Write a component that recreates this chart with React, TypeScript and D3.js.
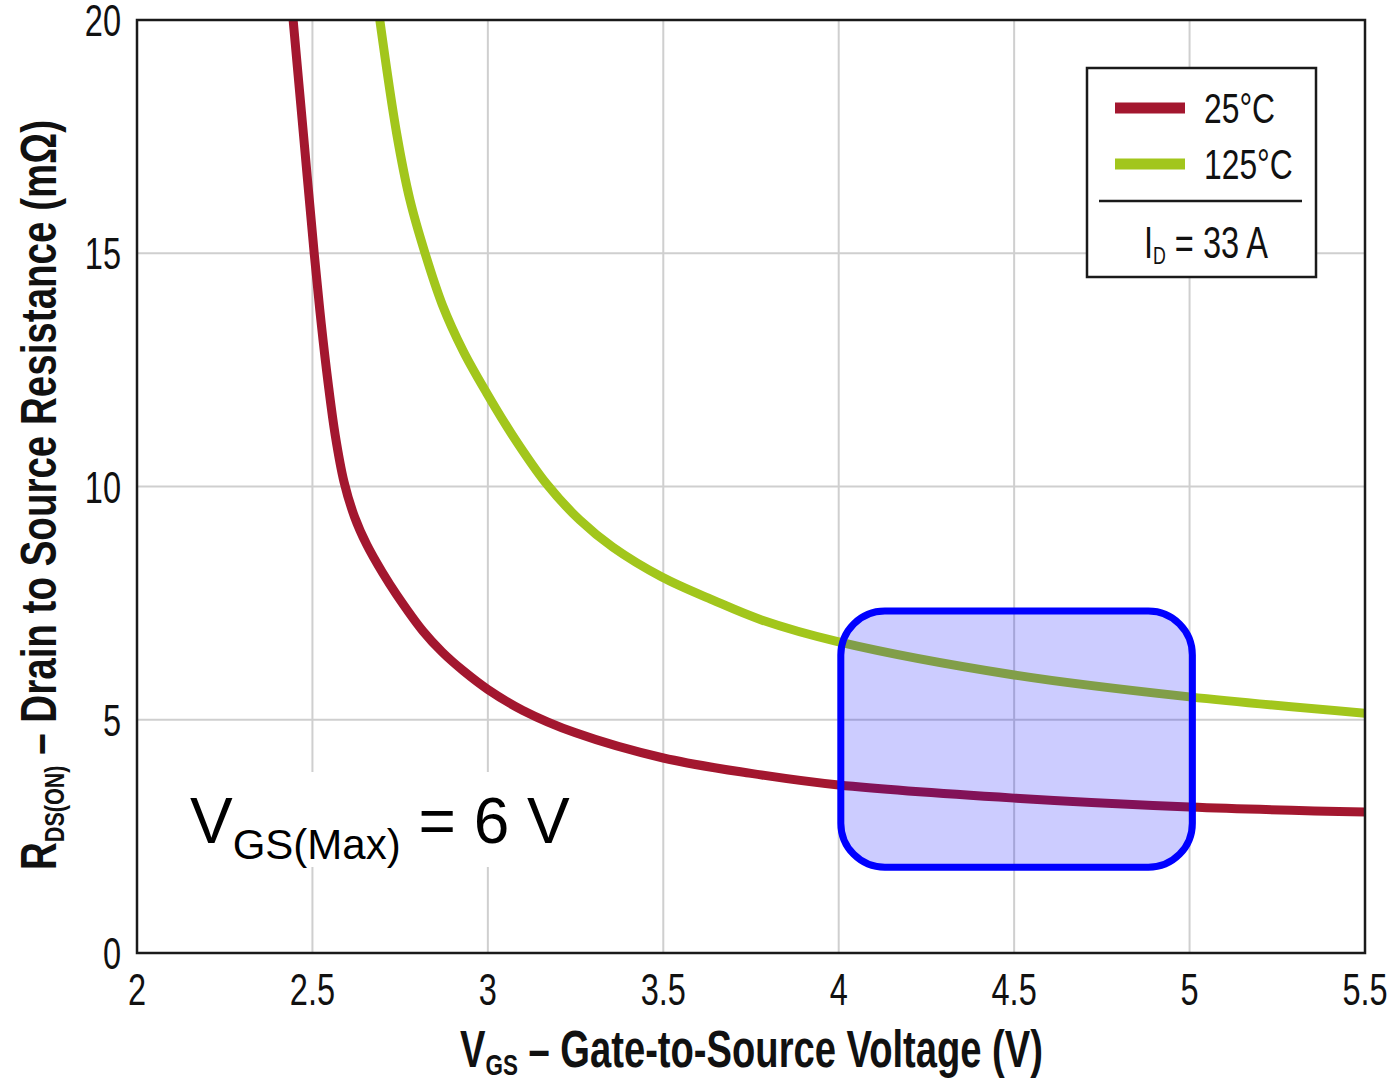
import * as d3 from "d3";

// 25 °C curve, ID = 33 A
const red25X = [2.445, 2.475, 2.505, 2.525, 2.545, 2.565, 2.59, 2.62, 2.655, 2.7, 2.74, 2.815, 2.87, 2.93, 3.0, 3.1, 3.25, 3.5, 3.75, 4.0, 4.5, 5.0, 5.5];
const red25Y = [20, 17.5, 15, 13.5, 12.2, 11.1, 10.1, 9.35, 8.75, 8.15, 7.68, 6.9, 6.45, 6.05, 5.65, 5.2, 4.72, 4.18, 3.85, 3.6, 3.32, 3.13, 3.02];

// 125 °C curve
const green125X = [2.692, 2.74, 2.778, 2.821, 2.87, 2.93, 2.997, 3.07, 3.168, 3.262, 3.356, 3.496, 3.64, 3.78, 4.0, 4.5, 5.0, 5.5];
const green125Y = [20, 17.57, 16.14, 15.0, 13.9, 12.9, 12.0, 11.1, 10.05, 9.28, 8.7, 8.06, 7.57, 7.14, 6.67, 5.96, 5.49, 5.14];

const xTicks = [2, 2.5, 3, 3.5, 4, 4.5, 5, 5.5];
const yTicks = [0, 5, 10, 15, 20];

// highlighted operating window (data units)
const boxX = [4.006, 5.008];
const boxY = [1.84, 7.33];

const sans = "'Liberation Sans', Arial, sans-serif";
const narrow = 0.74; // horizontal squeeze to mimic a condensed face

function NText({ x, y, anchor = "start", size, bold = false, sx = narrow, children }: any) {
  return (
    <text
      transform={`translate(${x},${y}) scale(${sx},1)`}
      textAnchor={anchor}
      fontFamily={sans}
      fontSize={size}
      fontWeight={bold ? "bold" : "normal"}
      fill="#111"
    >
      {children}
    </text>
  );
}

export default function App() {
  const width = 1392;
  const height = 1078;

  const x = d3.scaleLinear().domain([2, 5.5]).range([137, 1365]);
  const y = d3.scaleLinear().domain([0, 20]).range([953, 20]);

  const line = d3
    .line<[number, number]>()
    .x((d) => x(d[0]))
    .y((d) => y(d[1]))
    .curve(d3.curveCatmullRom.alpha(0.5));

  const redPts = red25X.map((v, i) => [v, red25Y[i]] as [number, number]);
  const greenPts = green125X.map((v, i) => [v, green125Y[i]] as [number, number]);

  return (
    <svg
      width={width}
      height={height}
      style={{ position: "absolute", left: 0, top: 0, background: "#fff" }}
    >
      <defs>
        <clipPath id="plot">
          <rect x={x(2)} y={y(20)} width={x(5.5) - x(2)} height={y(0) - y(20)} />
        </clipPath>
      </defs>

      {/* grid */}
      {xTicks.map((t) => (
        <line key={"gx" + t} x1={x(t)} x2={x(t)} y1={y(0)} y2={y(20)} stroke="#cfcfcf" strokeWidth={2} />
      ))}
      {yTicks.map((t) => (
        <line key={"gy" + t} x1={x(2)} x2={x(5.5)} y1={y(t)} y2={y(t)} stroke="#cfcfcf" strokeWidth={2} />
      ))}

      {/* curves */}
      <g clipPath="url(#plot)">
        <path d={line(greenPts) ?? ""} fill="none" stroke="#a2c61c" strokeWidth={9} />
        <path d={line(redPts) ?? ""} fill="none" stroke="#a3172f" strokeWidth={9} />
      </g>

      {/* frame */}
      <rect
        x={x(2)}
        y={y(20)}
        width={x(5.5) - x(2)}
        height={y(0) - y(20)}
        fill="none"
        stroke="#1a1a1a"
        strokeWidth={2.5}
      />

      {/* tick labels */}
      {xTicks.map((t) => (
        <NText key={"tx" + t} x={x(t)} y={1005} anchor="middle" size={44}>
          {String(t)}
        </NText>
      ))}
      {yTicks.map((t) => (
        <NText key={"ty" + t} x={121} y={y(t) + 16} anchor="end" size={44}>
          {String(t)}
        </NText>
      ))}

      {/* axis titles */}
      <text
        x={460}
        y={1067}
        textLength={583}
        lengthAdjust="spacingAndGlyphs"
        fontFamily={sans}
        fontWeight="bold"
        fontSize={51}
        fill="#111"
      >
        V<tspan fontSize={30} dy={8}>GS</tspan>
        <tspan dy={-8}> – Gate-to-Source Voltage (V)</tspan>
      </text>
      <text
        transform="translate(56,870) rotate(-90)"
        textLength={750}
        lengthAdjust="spacingAndGlyphs"
        fontFamily={sans}
        fontWeight="bold"
        fontSize={50}
        fill="#111"
      >
        R<tspan fontSize={28} dy={8}>DS(ON)</tspan>
        <tspan dy={-8}>  – Drain  to Source Resistance (mΩ)</tspan>
      </text>

      {/* legend */}
      <rect x={1087} y={68} width={229} height={209} fill="#fff" stroke="#1a1a1a" strokeWidth={2.5} />
      <line x1={1115} x2={1185} y1={108} y2={108} stroke="#a3172f" strokeWidth={11} />
      <line x1={1115} x2={1185} y1={164} y2={164} stroke="#a2c61c" strokeWidth={11} />
      <NText x={1204} y={123} size={43}>25°C</NText>
      <NText x={1204} y={179} size={43}>125°C</NText>
      <line x1={1099} x2={1302} y1={201} y2={201} stroke="#1a1a1a" strokeWidth={2.5} />
      <NText x={1206} y={258} anchor="middle" size={44}>
        I<tspan fontSize={24} dy={6}>D</tspan>
        <tspan dy={-6}> = 33 A</tspan>
      </NText>

      {/* annotation */}
      <rect x={172} y={772} width={425} height={95} fill="#fff" />
      <text x={190} y={843} fontFamily={sans} fontSize={64} fill="#000">
        V<tspan fontSize={42} dy={16}>GS(Max)</tspan>
        <tspan dy={-16}> = 6 V</tspan>
      </text>

      {/* highlighted window */}
      <rect
        x={x(boxX[0])}
        y={y(boxY[1])}
        width={x(boxX[1]) - x(boxX[0])}
        height={y(boxY[0]) - y(boxY[1])}
        rx={44}
        ry={44}
        fill="rgba(0,0,255,0.2)"
        stroke="#0000ff"
        strokeWidth={7}
      />
    </svg>
  );
}
